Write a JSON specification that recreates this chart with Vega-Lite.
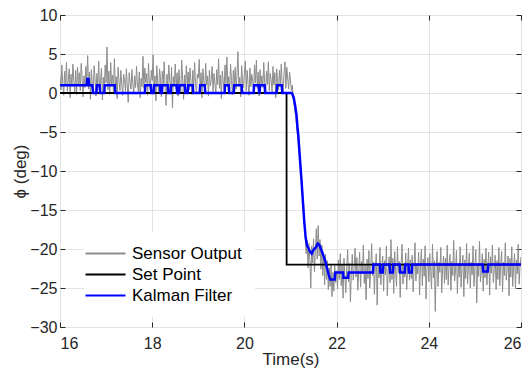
{
"$schema": "https://vega.github.io/schema/vega-lite/v6.json",
"width": 461, "height": 312,
"autosize": {"type": "none"},
"padding": {"left": 60, "top": 15, "right": 11, "bottom": 45},
"background": "white",
"config": {
 "font": "Liberation Sans",
 "view": {"stroke": "#262626", "strokeWidth": 1},
 "axis": {"domain": false, "labelFontSize": 16, "titleFontSize": 17, "labelColor": "#262626", "titleColor": "#262626", "gridColor": "#e3e3e3", "tickColor": "#262626", "titleFontWeight": "normal", "labelFont": "Liberation Sans", "titleFont": "Liberation Sans"},
 "legend": {"labelFont": "Liberation Sans"}
},
"datasets": {
 "sensor": [
{"t":16.00,"v":2.1},{"t":16.02,"v":0.4},{"t":16.04,"v":3.6},{"t":16.06,"v":1.2},{"t":16.08,"v":-0.3},{"t":16.10,"v":2.8},{"t":16.12,"v":0.9},{"t":16.14,"v":3.9},{"t":16.16,"v":0.2},{"t":16.18,"v":1.7},
{"t":16.20,"v":3.1},{"t":16.22,"v":-0.6},{"t":16.24,"v":2.4},{"t":16.26,"v":0.8},{"t":16.28,"v":3.7},{"t":16.30,"v":1.5},{"t":16.32,"v":0.1},{"t":16.34,"v":2.9},{"t":16.36,"v":-0.2},{"t":16.38,"v":3.3},
{"t":16.40,"v":1.0},{"t":16.42,"v":2.6},{"t":16.44,"v":0.3},{"t":16.46,"v":3.8},{"t":16.48,"v":1.9},{"t":16.50,"v":-0.5},{"t":16.52,"v":2.2},{"t":16.54,"v":0.7},{"t":16.56,"v":3.4},{"t":16.58,"v":1.4},
{"t":16.60,"v":4.8},{"t":16.62,"v":0.5},{"t":16.64,"v":2.7},{"t":16.66,"v":-0.8},{"t":16.68,"v":3.0},{"t":16.70,"v":1.1},{"t":16.72,"v":0.2},{"t":16.74,"v":3.5},{"t":16.76,"v":1.8},{"t":16.78,"v":-0.4},
{"t":16.80,"v":2.5},{"t":16.82,"v":0.9},{"t":16.84,"v":4.1},{"t":16.86,"v":0.0},{"t":16.88,"v":1.6},{"t":16.90,"v":3.2},{"t":16.92,"v":-0.9},{"t":16.94,"v":2.0},{"t":16.96,"v":0.6},{"t":16.98,"v":3.6},
{"t":17.00,"v":1.3},{"t":17.02,"v":5.9},{"t":17.04,"v":0.4},{"t":17.06,"v":2.8},{"t":17.08,"v":-0.2},{"t":17.10,"v":3.9},{"t":17.12,"v":1.0},{"t":17.14,"v":2.3},{"t":17.16,"v":0.1},{"t":17.18,"v":4.4},
{"t":17.20,"v":0.8},{"t":17.22,"v":2.1},{"t":17.24,"v":-0.7},{"t":17.26,"v":3.3},{"t":17.28,"v":1.5},{"t":17.30,"v":0.3},{"t":17.32,"v":2.9},{"t":17.34,"v":1.1},{"t":17.36,"v":-0.3},{"t":17.38,"v":2.4},
{"t":17.40,"v":1.7},{"t":17.42,"v":0.2},{"t":17.44,"v":3.1},{"t":17.46,"v":0.9},{"t":17.48,"v":-1.2},{"t":17.50,"v":2.6},{"t":17.52,"v":1.4},{"t":17.54,"v":0.5},{"t":17.56,"v":3.0},{"t":17.58,"v":1.2},
{"t":17.60,"v":-0.1},{"t":17.62,"v":2.2},{"t":17.64,"v":0.7},{"t":17.66,"v":3.4},{"t":17.68,"v":1.0},{"t":17.70,"v":0.2},{"t":17.72,"v":2.7},{"t":17.74,"v":-0.6},{"t":17.76,"v":1.9},{"t":17.78,"v":0.8},
{"t":17.80,"v":4.7},{"t":17.82,"v":0.6},{"t":17.84,"v":3.2},{"t":17.86,"v":1.3},{"t":17.88,"v":2.5},{"t":17.90,"v":-0.3},{"t":17.92,"v":3.8},{"t":17.94,"v":1.1},{"t":17.96,"v":0.4},{"t":17.98,"v":2.9},
{"t":18.00,"v":1.6},{"t":18.02,"v":4.9},{"t":18.04,"v":0.3},{"t":18.06,"v":2.2},{"t":18.08,"v":-1.0},{"t":18.10,"v":3.5},{"t":18.12,"v":1.4},{"t":18.14,"v":0.0},{"t":18.16,"v":3.1},{"t":18.18,"v":2.0},
{"t":18.20,"v":-0.5},{"t":18.22,"v":2.8},{"t":18.24,"v":1.2},{"t":18.26,"v":4.0},{"t":18.28,"v":0.7},{"t":18.30,"v":-1.6},{"t":18.32,"v":2.4},{"t":18.34,"v":0.9},{"t":18.36,"v":3.6},{"t":18.38,"v":1.5},
{"t":18.40,"v":0.2},{"t":18.42,"v":3.3},{"t":18.44,"v":-1.9},{"t":18.46,"v":2.1},{"t":18.48,"v":1.0},{"t":18.50,"v":3.7},{"t":18.52,"v":0.5},{"t":18.54,"v":2.6},{"t":18.56,"v":-0.4},{"t":18.58,"v":3.0},
{"t":18.60,"v":1.3},{"t":18.62,"v":0.1},{"t":18.64,"v":4.2},{"t":18.66,"v":1.8},{"t":18.68,"v":-0.8},{"t":18.70,"v":2.3},{"t":18.72,"v":0.6},{"t":18.74,"v":3.5},{"t":18.76,"v":1.1},{"t":18.78,"v":2.7},
{"t":18.80,"v":0.4},{"t":18.82,"v":3.2},{"t":18.84,"v":1.5},{"t":18.86,"v":-0.2},{"t":18.88,"v":2.9},{"t":18.90,"v":0.8},{"t":18.92,"v":3.9},{"t":18.94,"v":1.2},{"t":18.96,"v":0.0},{"t":18.98,"v":2.4},
{"t":19.00,"v":1.9},{"t":19.02,"v":4.3},{"t":19.04,"v":0.5},{"t":19.06,"v":2.6},{"t":19.08,"v":-0.6},{"t":19.10,"v":3.1},{"t":19.12,"v":1.4},{"t":19.14,"v":0.3},{"t":19.16,"v":3.8},{"t":19.18,"v":1.0},
{"t":19.20,"v":2.2},{"t":19.22,"v":-0.4},{"t":19.24,"v":2.9},{"t":19.26,"v":0.9},{"t":19.28,"v":1.7},{"t":19.30,"v":3.4},{"t":19.32,"v":0.2},{"t":19.34,"v":2.5},{"t":19.36,"v":1.3},{"t":19.38,"v":-0.1},
{"t":19.40,"v":3.0},{"t":19.42,"v":1.1},{"t":19.44,"v":4.4},{"t":19.46,"v":0.6},{"t":19.48,"v":2.3},{"t":19.50,"v":-0.7},{"t":19.52,"v":2.8},{"t":19.54,"v":1.5},{"t":19.56,"v":0.4},{"t":19.58,"v":3.6},
{"t":19.60,"v":1.2},{"t":19.62,"v":4.6},{"t":19.64,"v":0.8},{"t":19.66,"v":2.1},{"t":19.68,"v":0.0},{"t":19.70,"v":3.7},{"t":19.72,"v":1.6},{"t":19.74,"v":-0.2},{"t":19.76,"v":2.9},{"t":19.78,"v":1.0},
{"t":19.80,"v":3.3},{"t":19.82,"v":0.5},{"t":19.84,"v":2.4},{"t":19.86,"v":5.3},{"t":19.88,"v":0.9},{"t":19.90,"v":2.0},{"t":19.92,"v":-0.5},{"t":19.94,"v":3.5},{"t":19.96,"v":1.4},{"t":19.98,"v":0.7},
{"t":20.00,"v":2.6},{"t":20.02,"v":4.1},{"t":20.04,"v":0.3},{"t":20.06,"v":2.9},{"t":20.08,"v":1.1},{"t":20.10,"v":-0.3},{"t":20.12,"v":3.2},{"t":20.14,"v":0.8},{"t":20.16,"v":2.4},{"t":20.18,"v":1.5},
{"t":20.20,"v":0.1},{"t":20.22,"v":3.6},{"t":20.24,"v":1.3},{"t":20.26,"v":4.2},{"t":20.28,"v":0.6},{"t":20.30,"v":2.7},{"t":20.32,"v":-0.4},{"t":20.34,"v":3.0},{"t":20.36,"v":1.0},{"t":20.38,"v":2.2},
{"t":20.40,"v":0.7},{"t":20.42,"v":3.9},{"t":20.44,"v":1.4},{"t":20.46,"v":-0.1},{"t":20.48,"v":2.8},{"t":20.50,"v":1.1},{"t":20.52,"v":4.0},{"t":20.54,"v":0.3},{"t":20.56,"v":2.5},{"t":20.58,"v":1.7},
{"t":20.60,"v":0.2},{"t":20.62,"v":3.4},{"t":20.64,"v":1.0},{"t":20.66,"v":2.6},{"t":20.68,"v":-0.6},{"t":20.70,"v":3.1},{"t":20.72,"v":1.5},{"t":20.74,"v":0.4},{"t":20.76,"v":2.9},{"t":20.78,"v":0.9},
{"t":20.80,"v":3.7},{"t":20.82,"v":1.2},{"t":20.84,"v":0.0},{"t":20.86,"v":2.5},{"t":20.88,"v":4.0},{"t":20.90,"v":0.6},{"t":20.92,"v":3.3},{"t":20.94,"v":1.8},{"t":20.96,"v":0.5},{"t":20.98,"v":2.7},
{"t":21.00,"v":1.5},{"t":21.02,"v":0.3},{"t":21.04,"v":1.0},{"t":21.06,"v":-0.8},{"t":21.08,"v":-1.5},{"t":21.10,"v":-2.6},{"t":21.12,"v":-3.4},{"t":21.14,"v":-4.8},{"t":21.16,"v":-5.9},{"t":21.18,"v":-7.2},
{"t":21.20,"v":-8.1},{"t":21.22,"v":-9.6},{"t":21.24,"v":-11.0},{"t":21.26,"v":-12.7},{"t":21.28,"v":-14.3},{"t":21.30,"v":-16.5},{"t":21.32,"v":-18.2},{"t":21.34,"v":-20.6},{"t":21.36,"v":-18.9},{"t":21.38,"v":-22.4},
{"t":21.40,"v":-19.3},{"t":21.42,"v":-21.5},{"t":21.44,"v":-25.0},{"t":21.46,"v":-19.6},{"t":21.48,"v":-21.8},{"t":21.50,"v":-18.7},{"t":21.52,"v":-22.9},{"t":21.54,"v":-20.2},{"t":21.56,"v":-17.4},{"t":21.58,"v":-21.3},
{"t":21.60,"v":-17.0},{"t":21.62,"v":-20.9},{"t":21.64,"v":-18.8},{"t":21.66,"v":-22.6},{"t":21.68,"v":-19.5},{"t":21.70,"v":-23.4},{"t":21.72,"v":-21.0},{"t":21.74,"v":-24.6},{"t":21.76,"v":-20.7},{"t":21.78,"v":-23.9},
{"t":21.80,"v":-21.5},{"t":21.82,"v":-25.2},{"t":21.84,"v":-22.4},{"t":21.86,"v":-24.8},{"t":21.88,"v":-21.9},{"t":21.90,"v":-26.1},{"t":21.92,"v":-23.0},{"t":21.94,"v":-25.4},{"t":21.96,"v":-22.1},{"t":21.98,"v":-24.3},
{"t":22.00,"v":-22.8},{"t":22.02,"v":-25.1},{"t":22.04,"v":-21.4},{"t":22.06,"v":-23.9},{"t":22.08,"v":-20.6},{"t":22.10,"v":-24.7},{"t":22.12,"v":-22.0},{"t":22.14,"v":-26.3},{"t":22.16,"v":-21.2},{"t":22.18,"v":-23.5},
{"t":22.20,"v":-25.6},{"t":22.22,"v":-22.3},{"t":22.24,"v":-20.1},{"t":22.26,"v":-24.2},{"t":22.28,"v":-21.8},{"t":22.30,"v":-26.8},{"t":22.32,"v":-22.9},{"t":22.34,"v":-20.7},{"t":22.36,"v":-24.0},{"t":22.38,"v":-22.5},
{"t":22.40,"v":-19.9},{"t":22.42,"v":-23.6},{"t":22.44,"v":-21.1},{"t":22.46,"v":-25.3},{"t":22.48,"v":-22.7},{"t":22.50,"v":-20.4},{"t":22.52,"v":-24.9},{"t":22.54,"v":-21.6},{"t":22.56,"v":-23.2},{"t":22.58,"v":-19.5},
{"t":22.60,"v":-24.4},{"t":22.62,"v":-22.1},{"t":22.64,"v":-26.5},{"t":22.66,"v":-21.3},{"t":22.68,"v":-23.8},{"t":22.70,"v":-20.2},{"t":22.72,"v":-25.0},{"t":22.74,"v":-22.6},{"t":22.76,"v":-19.3},{"t":22.78,"v":-23.4},
{"t":22.80,"v":-21.7},{"t":22.82,"v":-25.8},{"t":22.84,"v":-22.4},{"t":22.86,"v":-20.6},{"t":22.88,"v":-27.2},{"t":22.90,"v":-21.9},{"t":22.92,"v":-23.7},{"t":22.94,"v":-19.8},{"t":22.96,"v":-24.6},{"t":22.98,"v":-22.2},
{"t":23.00,"v":-20.9},{"t":23.02,"v":-25.4},{"t":23.04,"v":-21.5},{"t":23.06,"v":-23.3},{"t":23.08,"v":-19.6},{"t":23.10,"v":-26.0},{"t":23.12,"v":-22.8},{"t":23.14,"v":-21.0},{"t":23.16,"v":-24.3},{"t":23.18,"v":-18.8},
{"t":23.20,"v":-23.9},{"t":23.22,"v":-21.2},{"t":23.24,"v":-25.7},{"t":23.26,"v":-20.3},{"t":23.28,"v":-22.9},{"t":23.30,"v":-24.8},{"t":23.32,"v":-19.7},{"t":23.34,"v":-23.1},{"t":23.36,"v":-21.6},{"t":23.38,"v":-26.2},
{"t":23.40,"v":-22.0},{"t":23.42,"v":-19.4},{"t":23.44,"v":-24.5},{"t":23.46,"v":-21.8},{"t":23.48,"v":-23.6},{"t":23.50,"v":-20.5},{"t":23.52,"v":-25.2},{"t":23.54,"v":-22.3},{"t":23.56,"v":-19.9},{"t":23.58,"v":-24.0},
{"t":23.60,"v":-21.4},{"t":23.62,"v":-23.8},{"t":23.64,"v":-20.8},{"t":23.66,"v":-25.5},{"t":23.68,"v":-22.6},{"t":23.70,"v":-19.2},{"t":23.72,"v":-24.1},{"t":23.74,"v":-21.9},{"t":23.76,"v":-23.2},{"t":23.78,"v":-20.4},
{"t":23.80,"v":-25.9},{"t":23.82,"v":-22.1},{"t":23.84,"v":-20.0},{"t":23.86,"v":-24.7},{"t":23.88,"v":-21.3},{"t":23.90,"v":-23.5},{"t":23.92,"v":-19.6},{"t":23.94,"v":-26.4},{"t":23.96,"v":-22.4},{"t":23.98,"v":-21.1},
{"t":24.00,"v":-24.2},{"t":24.02,"v":-20.6},{"t":24.04,"v":-22.9},{"t":24.06,"v":-25.1},{"t":24.08,"v":-19.4},{"t":24.10,"v":-23.7},{"t":24.12,"v":-21.5},{"t":24.14,"v":-28.0},{"t":24.16,"v":-22.2},{"t":24.18,"v":-20.3},
{"t":24.20,"v":-24.8},{"t":24.22,"v":-21.7},{"t":24.24,"v":-23.0},{"t":24.26,"v":-19.8},{"t":24.28,"v":-25.6},{"t":24.30,"v":-22.5},{"t":24.32,"v":-20.9},{"t":24.34,"v":-24.4},{"t":24.36,"v":-21.2},{"t":24.38,"v":-23.9},
{"t":24.40,"v":-19.5},{"t":24.42,"v":-24.6},{"t":24.44,"v":-22.0},{"t":24.46,"v":-20.7},{"t":24.48,"v":-25.3},{"t":24.50,"v":-21.6},{"t":24.52,"v":-23.4},{"t":24.54,"v":-18.9},{"t":24.56,"v":-24.1},{"t":24.58,"v":-22.7},
{"t":24.60,"v":-20.2},{"t":24.62,"v":-25.7},{"t":24.64,"v":-21.9},{"t":24.66,"v":-23.6},{"t":24.68,"v":-19.7},{"t":24.70,"v":-24.9},{"t":24.72,"v":-22.3},{"t":24.74,"v":-20.8},{"t":24.76,"v":-26.1},{"t":24.78,"v":-21.4},
{"t":24.80,"v":-23.8},{"t":24.82,"v":-19.3},{"t":24.84,"v":-24.5},{"t":24.86,"v":-22.1},{"t":24.88,"v":-20.5},{"t":24.90,"v":-25.0},{"t":24.92,"v":-21.7},{"t":24.94,"v":-23.3},{"t":24.96,"v":-19.6},{"t":24.98,"v":-24.8},
{"t":25.00,"v":-22.4},{"t":25.02,"v":-20.1},{"t":25.04,"v":-26.9},{"t":25.06,"v":-21.8},{"t":25.08,"v":-23.5},{"t":25.10,"v":-19.0},{"t":25.12,"v":-24.2},{"t":25.14,"v":-22.8},{"t":25.16,"v":-20.6},{"t":25.18,"v":-25.4},
{"t":25.20,"v":-21.3},{"t":25.22,"v":-23.7},{"t":25.24,"v":-19.9},{"t":25.26,"v":-24.6},{"t":25.28,"v":-22.2},{"t":25.30,"v":-20.4},{"t":25.32,"v":-25.9},{"t":25.34,"v":-21.0},{"t":25.36,"v":-23.1},{"t":25.38,"v":-19.5},
{"t":25.40,"v":-24.3},{"t":25.42,"v":-22.6},{"t":25.44,"v":-20.8},{"t":25.46,"v":-25.2},{"t":25.48,"v":-21.5},{"t":25.50,"v":-23.9},{"t":25.52,"v":-19.8},{"t":25.54,"v":-24.7},{"t":25.56,"v":-22.0},{"t":25.58,"v":-20.3},
{"t":25.60,"v":-25.5},{"t":25.62,"v":-21.7},{"t":25.64,"v":-23.4},{"t":25.66,"v":-19.2},{"t":25.68,"v":-24.0},{"t":25.70,"v":-22.5},{"t":25.72,"v":-20.9},{"t":25.74,"v":-26.0},{"t":25.76,"v":-21.2},{"t":25.78,"v":-23.6},
{"t":25.80,"v":-19.7},{"t":25.82,"v":-24.8},{"t":25.84,"v":-22.3},{"t":25.86,"v":-20.6},{"t":25.88,"v":-25.1},{"t":25.90,"v":-21.4},{"t":25.92,"v":-23.2},{"t":25.94,"v":-19.4},{"t":25.96,"v":-24.5},{"t":25.98,"v":-22.1},
{"t":26.00,"v":-21.0}
 ],
 "setpoint": [{"t":16,"v":0},{"t":20.914,"v":0},{"t":20.916,"v":-22},{"t":26,"v":-22}],
 "kalman": [
{"t":16.00,"v":1},{"t":16.58,"v":1},{"t":16.59,"v":1.8},{"t":16.62,"v":1.8},{"t":16.63,"v":1},{"t":16.70,"v":1},{"t":16.72,"v":0},{"t":16.79,"v":0},{"t":16.80,"v":1},{"t":16.86,"v":1},{"t":16.87,"v":0},{"t":16.96,"v":0},{"t":16.97,"v":1},{"t":17.19,"v":1},{"t":17.20,"v":0},
{"t":17.84,"v":0},{"t":17.85,"v":1},{"t":17.97,"v":1},{"t":17.98,"v":0},{"t":18.03,"v":0},{"t":18.04,"v":1},{"t":18.17,"v":1},{"t":18.18,"v":0},{"t":18.21,"v":0},{"t":18.22,"v":1},{"t":18.34,"v":1},{"t":18.35,"v":0},{"t":18.40,"v":0},{"t":18.41,"v":1},{"t":18.53,"v":1},{"t":18.54,"v":0},{"t":18.58,"v":0},{"t":18.59,"v":1},{"t":18.71,"v":1},{"t":18.72,"v":0},{"t":18.77,"v":0},{"t":18.78,"v":1},{"t":18.88,"v":1},{"t":18.89,"v":0},
{"t":19.03,"v":0},{"t":19.04,"v":1},{"t":19.14,"v":1},{"t":19.15,"v":0},{"t":19.57,"v":0},{"t":19.58,"v":1},{"t":19.66,"v":1},{"t":19.67,"v":0},{"t":19.77,"v":0},{"t":19.78,"v":1},{"t":19.94,"v":1},{"t":19.95,"v":0},
{"t":20.20,"v":0},{"t":20.21,"v":1},{"t":20.31,"v":1},{"t":20.32,"v":0},{"t":20.33,"v":0},{"t":20.34,"v":1},{"t":20.44,"v":1},{"t":20.45,"v":0},{"t":20.70,"v":0},{"t":20.71,"v":1},{"t":20.81,"v":1},{"t":20.82,"v":0},{"t":21.03,"v":0},
{"t":21.07,"v":-0.6},{"t":21.10,"v":-1.6},{"t":21.13,"v":-2.8},{"t":21.15,"v":-4.3},{"t":21.17,"v":-5.5},{"t":21.19,"v":-7.2},{"t":21.21,"v":-8.9},{"t":21.24,"v":-11.3},{"t":21.27,"v":-14.0},{"t":21.30,"v":-16.6},{"t":21.33,"v":-18.6},{"t":21.36,"v":-19.6},{"t":21.39,"v":-19.9},{"t":21.42,"v":-20.3},{"t":21.46,"v":-20.6},{"t":21.50,"v":-20.1},{"t":21.55,"v":-19.8},{"t":21.59,"v":-19.3},{"t":21.62,"v":-19.4},{"t":21.66,"v":-20.0},{"t":21.70,"v":-20.6},{"t":21.75,"v":-21.5},{"t":21.79,"v":-22.4},{"t":21.83,"v":-23.3},{"t":21.86,"v":-23.9},{"t":21.96,"v":-23.9},{"t":21.97,"v":-23.0},
{"t":22.14,"v":-23.0},{"t":22.15,"v":-23.7},{"t":22.25,"v":-23.7},{"t":22.26,"v":-23.0},{"t":22.79,"v":-23.0},{"t":22.80,"v":-22.0},{"t":22.94,"v":-22.0},{"t":22.95,"v":-23.0},{"t":23.00,"v":-23.0},{"t":23.01,"v":-22.0},{"t":23.15,"v":-22.0},{"t":23.16,"v":-23.0},{"t":23.22,"v":-23.0},{"t":23.23,"v":-22.0},{"t":23.37,"v":-22.0},{"t":23.38,"v":-23.0},{"t":23.48,"v":-23.0},{"t":23.49,"v":-22.0},{"t":23.56,"v":-22.0},{"t":23.57,"v":-23.0},{"t":23.63,"v":-23.0},{"t":23.64,"v":-22.0},
{"t":25.17,"v":-22.0},{"t":25.18,"v":-22.9},{"t":25.28,"v":-22.9},{"t":25.29,"v":-22.0},{"t":26.00,"v":-22.0}
 ]
},
"layer": [
 {
  "data": {"name": "sensor"},
  "mark": {"type": "line", "strokeWidth": 1, "clip": true},
  "encoding": {
   "x": {"field": "t", "type": "quantitative", "scale": {"domain": [16, 26], "nice": false},
         "axis": {"title": "Time(s)", "values": [16,18,20,22,24,26], "grid": true, "tickSize": -5, "labelPadding": 13, "titlePadding": 0, "format": "d"}},
   "y": {"field": "v", "type": "quantitative", "scale": {"domain": [-30, 10], "nice": false},
         "axis": {"title": "ϕ (deg)", "values": [-30,-25,-20,-15,-10,-5,0,5,10], "grid": true, "tickSize": -5, "labelPadding": 8, "titlePadding": 0, "format": "d"}},
   "color": {"datum": "Sensor Output", "type": "nominal",
     "scale": {"domain": ["Sensor Output", "Set Point", "Kalman Filter"], "range": ["#8c8c8c", "#000000", "#0000ff"]},
     "legend": {"title": null, "orient": "none", "legendX": 24, "legendY": 217, "fillColor": "white", "padding": 13,
       "symbolType": "M-4,0L4,0", "symbolSize": 100, "symbolStrokeWidth": 2, "labelFontSize": 17, "labelOffset": 18, "rowPadding": 3, "labelColor": "#000000"}}
  }
 },
 {
  "data": {"name": "setpoint"},
  "mark": {"type": "line", "strokeWidth": 1.8},
  "encoding": {
   "x": {"field": "t", "type": "quantitative", "axis": {"orient": "top", "labels": false, "grid": false, "tickSize": -5, "title": null, "values": [16,18,20,22,24,26]}},
   "y": {"field": "v", "type": "quantitative", "axis": {"orient": "right", "labels": false, "grid": false, "tickSize": -5, "title": null, "values": [-30,-25,-20,-15,-10,-5,0,5,10]}},
   "color": {"datum": "Set Point", "type": "nominal"}
  }
 },
 {
  "data": {"name": "kalman"},
  "mark": {"type": "line", "strokeWidth": 2.5},
  "encoding": {
   "x": {"field": "t", "type": "quantitative", "axis": null},
   "y": {"field": "v", "type": "quantitative", "axis": null},
   "color": {"datum": "Kalman Filter", "type": "nominal"}
  }
 }
],
"resolve": {"axis": {"x": "independent", "y": "independent"}}
}
